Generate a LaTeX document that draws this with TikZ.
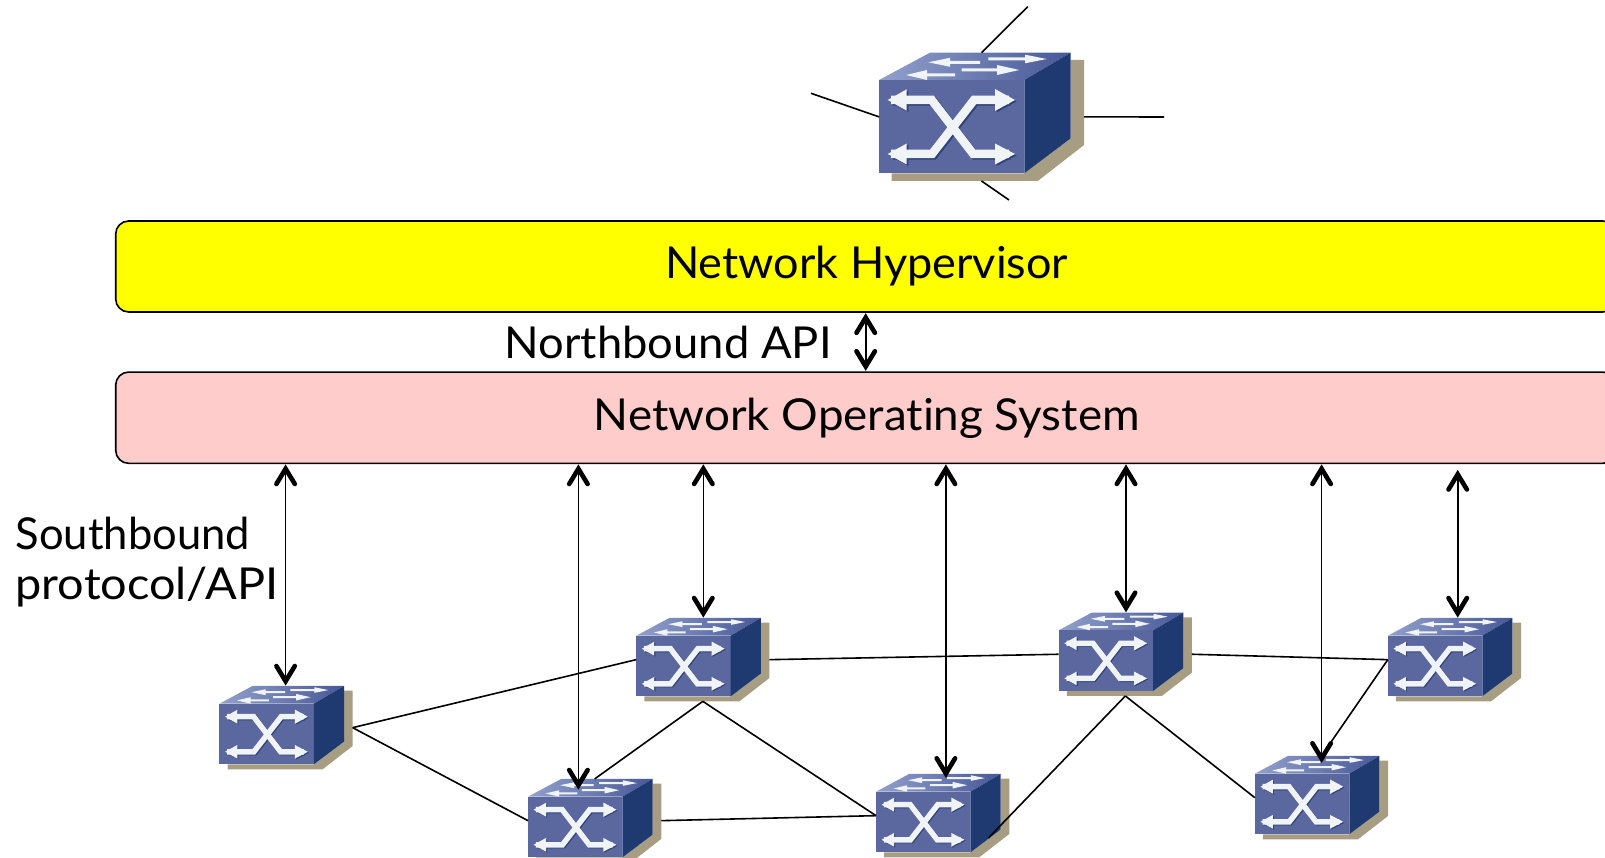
\documentclass[tikz,border=0pt]{standalone}
\usepackage{fontspec}
\setmainfont{Lato}[Ligatures=NoCommon]
\usetikzlibrary{arrows.meta}
\definecolor{swfront}{RGB}{91,104,160}
\definecolor{swside}{RGB}{30,58,112}
\definecolor{swtopl}{RGB}{145,160,203}
\definecolor{swtopr}{RGB}{72,88,152}
\definecolor{swshadow}{RGB}{166,157,131}
\definecolor{swwhite}{RGB}{241,244,247}
\definecolor{swdark}{RGB}{44,66,120}
\definecolor{hvyellow}{RGB}{255,255,0}
\definecolor{nospink}{RGB}{255,204,204}
\pgfdeclarearrow{
  name=ThickBarb,
  setup code={\pgfarrowssettipend{0pt}\pgfarrowssetlineend{-5pt}\pgfarrowssetvisualbackend{-20pt}\pgfarrowssetbackend{-22pt}\pgfarrowshullpoint{0pt}{0pt}\pgfarrowshullpoint{-22pt}{11pt}\pgfarrowshullpoint{-22pt}{-11pt}},
  drawing code={\pgfsetlinewidth{4.6pt}\pgfsetroundcap\pgfsetmiterjoin\pgfsetdash{}{0pt}%
    \pgfpathmoveto{\pgfqpoint{-20pt}{9.2pt}}\pgfpathlineto{\pgfqpoint{-4.8pt}{0pt}}\pgfpathlineto{\pgfqpoint{-20pt}{-9.2pt}}\pgfusepathqstroke},
}
\tikzset{
  x=1pt,y=-1pt,
  layerbox/.style={draw=black,line width=1.6pt,rounded corners=13pt,minimum width=1500pt,inner sep=0pt},
  label/.style={anchor=base west,inner sep=0pt,font=\fontsize{44}{44}\selectfont},
  link/.style={draw=black,line width=1.6pt},
  dbl/.style={draw=black,line width=1.6pt,ThickBarb-ThickBarb},
  swbox/.style={inner sep=0pt,outer sep=0pt,minimum width=#1*205pt,minimum height=#1*128.3pt,rectangle},
}
\newcommand\crossarrows[2]{%
  \draw[#1,line width=#2*8.5pt,line join=miter] (12,20) -- (52.7,20) -- (94.3,74) -- (130,74);
  \draw[#1,line width=#2*8.5pt,line join=miter] (130,20) -- (95,20) -- (53,74) -- (12,74);
  \fill[#1] (8.7,20) -- (27.7,9.3) -- (27.7,30.7) -- cycle;
  \fill[#1] (8.7,74) -- (27.7,63.5) -- (27.7,84.5) -- cycle;
  \fill[#1] (136,20) -- (116,9) -- (116,31) -- cycle;
  \fill[#1] (136,74) -- (116,63.5) -- (116,84.5) -- cycle;
}
% name, x, y of the front face's top left corner, scale
\newcommand\switchicon[4]{%
\begin{scope}[shift={(#2,#3)},scale=#4]
  \fill[swshadow] (12.5,93.3) -- (12.5,101) -- (158.7,101) -- (205,65) -- (205,-20) -- (191.7,-20) -- (191.7,58.3) -- (145.3,93.3) -- cycle;
  \shade[left color=swtopl,right color=swtopr] (0,0) -- (51,-27.3) -- (191.7,-27.3) -- (145.3,0) -- cycle;
  \fill[swfront] (0,0) rectangle (145.3,93.3);
  \fill[swside] (145.3,0) -- (191.7,-27.3) -- (191.7,58.3) -- (145.3,93.3) -- cycle;
  \begin{scope}[shift={(1.6,1.4)}]
    \crossarrows{swdark}{#4}
  \end{scope}
  \crossarrows{swwhite}{#4}
  % arrows on the top face
  \fill[swwhite] (49.3,-17.7) -- (71,-22.2) -- (71,-19.2) -- (101,-19.2) -- (101,-16.2) -- (71,-16.2) -- (71,-13.2) -- cycle;
  \fill[swwhite] (167.7,-21) -- (146,-25.3) -- (146,-22.5) -- (109.3,-22.5) -- (109.3,-19.5) -- (146,-19.5) -- (146,-16.7) -- cycle;
  \fill[swwhite] (27,-5) -- (48,-10) -- (48,-6.5) -- (76,-6.5) -- (76,-3.5) -- (48,-3.5) -- (48,0) -- cycle;
  \fill[swwhite] (140.3,-10) -- (118,-15) -- (118,-11.5) -- (82.7,-11.5) -- (82.7,-8.5) -- (118,-8.5) -- (118,-5) -- cycle;
\end{scope}
\node[swbox=#4] (#1) at ({#2+102.5*#4},{#3+36.85*#4}) {};
}
\begin{document}
\begin{tikzpicture}
\useasboundingbox (0,0) rectangle (1605,858);
% free ends of the stubs on the big switch
\coordinate (stubn) at (1027.7,6.7);
\coordinate (stubw) at (811,93.3);
\coordinate (stube) at (1164,117);
\coordinate (stubs) at (1009,200);
% layers
\node[layerbox,fill=hvyellow,minimum height=91pt] (hv) at (865.7,266.5) {};
\node[layerbox,fill=nospink,minimum height=91.3pt] (nos) at (865.7,417.7) {};
\node[label] (hvt) at (665,279) {\scalebox{1.024}[1]{Network Hypervisor}};
\node[label] (nost) at (593.7,430) {\scalebox{1.04}[1]{Network Operating System}};
\node[label] (nbt) at (504.6,358) {\scalebox{1.03}[1]{Northbound API}};
\node[label] (sbta) at (15.3,549.5) {\scalebox{0.99}[1]{Southbound}};
\node[label] (sbtb) at (15.3,599.5) {\scalebox{1.065}[1]{protocol/API}};
% switches
\switchicon{big}{879}{80}{1}
\switchicon{swa}{219.4}{703.7}{0.65}
\switchicon{swb}{528}{796.7}{0.65}
\switchicon{swc}{636.2}{635.7}{0.65}
\switchicon{swd}{876}{791.7}{0.65}
\switchicon{swe}{1058.7}{630.3}{0.65}
\switchicon{swf}{1387.8}{635.7}{0.65}
\switchicon{swg}{1254.8}{773.7}{0.65}
% stubs
\draw[link] (big.north) -- (stubn);
\draw[link] (big.west) -- (stubw);
\draw[link] (big.east) -- (stube);
\draw[link] (big.south) -- (stubs);
% links
\coordinate (dport) at (988.4,838);
\draw[link] (swa.east) -- (swc.west);
\draw[link] (swa.east) -- (swb.west);
\draw[link] (swc.south) -- (swb.north);
\draw[link] (swc.south) -- (swd.west);
\draw[link] (swc.east) -- (swe.west);
\draw[link] (swb.east) -- (swd.west);
\draw[link] (swe.south) -- (dport);
\draw[link] (swe.south) -- (swg.west);
\draw[link] (swe.east) -- (swf.west);
\draw[link] (swf.west) -- (swg.north);
% control channels
\coordinate (ta) at (285.6,464);
\coordinate (ba) at (285.6,686);
\coordinate (tb) at (578.4,464);
\coordinate (bb) at (578.4,790);
\coordinate (tc) at (703.3,464);
\coordinate (bc) at (703.3,618);
\coordinate (td) at (945.9,464);
\coordinate (bd) at (945.9,778.3);
\coordinate (te) at (1126,464);
\coordinate (be) at (1126,612.7);
\coordinate (tg) at (1321.6,464);
\coordinate (bg) at (1321.6,763.3);
\coordinate (tf) at (1457.7,469.5);
\coordinate (bf) at (1457.7,618);
\draw[dbl] (ta) -- (ba);
\draw[dbl] (tb) -- (bb);
\draw[dbl] (tc) -- (bc);
\draw[dbl] (td) -- (bd);
\draw[dbl] (te) -- (be);
\draw[dbl] (tg) -- (bg);
\draw[dbl] (tf) -- (bf);
\draw[dbl] (hv.south) -- (nos.north);
\end{tikzpicture}
\end{document}
